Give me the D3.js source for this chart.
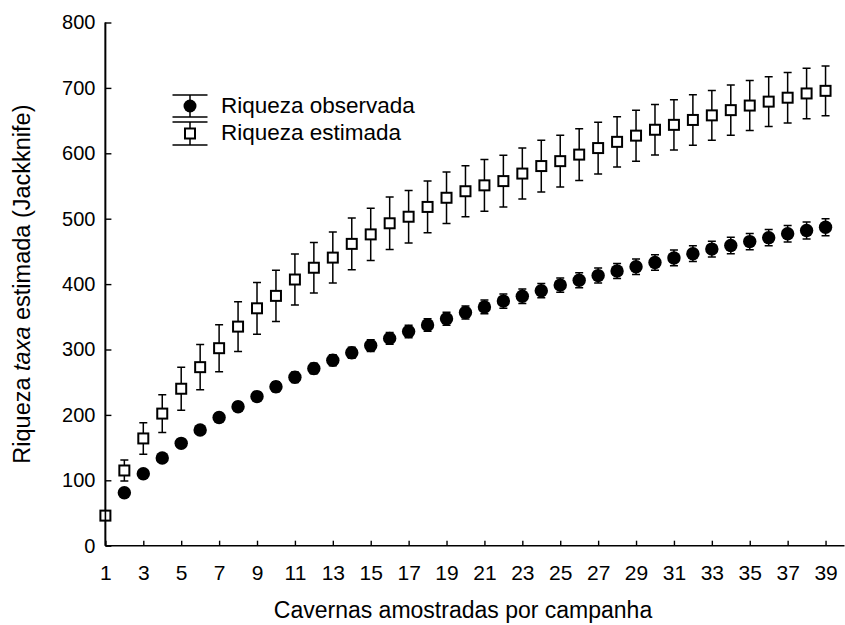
<!DOCTYPE html>
<html><head><meta charset="utf-8">
<script src="https://cdn.jsdelivr.net/npm/d3@7"></script>
<style>body{margin:0;background:#fff}svg{display:block;font-family:Arial,"Liberation Sans",sans-serif}</style>
</head><body><svg id="c" width="845" height="625"></svg>
<script>
const samples = d3.range(1, 40);
const observed = [null,81,110,134,156.5,177,196,212.5,228,243,257.5,271,283.5,295,306,317,327.5,337.5,347,356.5,365,374,381.5,390,398.5,406,413,420,426.5,433,440,446.5,453.5,459,465,471,477,482,487];
const observedErr = [0,3,4,5,5.5,6,6.5,7,7,7.5,8,8,8.5,8.5,9,9,9.5,9.5,10,10,10.5,11,11,11,11,11.5,11.5,11.5,12,12,12,12,12,12.5,12.5,12.5,12.5,13,13];
const estimated = [46,115,164,202,240,273,302,335,363,382,407,425,440.5,461.5,476,493,503,518,532,542,551,557.5,569,580.5,588,598,608,617.5,627,636,643.5,651,658,666,673,679,685,691.5,695.5];
const estimatedErr = [0,16,24,29,33,34.5,36,38,39.5,39,39,38.5,39,39.5,40,40,40,39.5,39.5,39,39.5,39.5,39,39.5,39.5,39.5,39.5,38.5,39,38.5,38.5,38.5,38,38.5,38.3,38,38.5,38.5,38];
const xTicks = d3.range(1, 40, 2);
const yTicks = d3.range(0, 801, 100);
const legendLabels = ["Riqueza observada", "Riqueza estimada"];

const svg = d3.select("#c");
const x = d3.scaleLinear().domain([1, 40]).range([105.4, 844.5]);
const y = d3.scaleLinear().domain([0, 800]).range([545.7, 22.5]);

// axes
const xAxis = d3.axisBottom(x).tickValues(xTicks).tickSize(-5).tickPadding(19).tickFormat(d3.format("d"));
const gx = svg.append("g").attr("transform", `translate(0,${y(0)})`).call(xAxis);
const yAxis = d3.axisLeft(y).tickValues(yTicks).tickSize(-6).tickPadding(10);
const gy = svg.append("g").attr("transform", `translate(${x(1)},0)`).call(yAxis);
[gx, gy].forEach(g => {
  g.select(".domain").attr("stroke", "#000").attr("stroke-width", 1.6);
  g.selectAll(".tick line").attr("stroke", "#000").attr("stroke-width", 1.4);
  g.selectAll(".tick text").attr("fill", "#000").attr("font-family", "Arial, 'Liberation Sans', sans-serif");
});
gx.selectAll(".tick text").attr("font-size", 21);
gy.selectAll(".tick text").attr("font-size", 20);
gy.select(".domain").attr("d", `M0,${y(0)}V${y(800)}`);
gx.select(".domain").attr("d", `M${x(1)},0H${x(40)}`);

// titles
svg.append("text").attr("x", 463).attr("y", 618).attr("text-anchor", "middle")
  .attr("font-size", 23).text("Cavernas amostradas por campanha");
const yt = svg.append("text").attr("transform", `translate(30,${(y(0)+y(800))/2}) rotate(-90)`)
  .attr("text-anchor", "middle").attr("font-size", 23.5);
yt.append("tspan").text("Riqueza ");
yt.append("tspan").attr("font-style", "italic").text("taxa");
yt.append("tspan").text(" estimada (Jackknife)");

const sq = samples.map((s, i) => ({s, v: estimated[i], e: estimatedErr[i]}));
const ob = samples.map((s, i) => ({s, v: observed[i], e: observedErr[i]})).filter(d => d.v != null);

function errBars(data, cap) {
  const g = svg.append("g").attr("stroke", "#000").attr("stroke-width", 1.5).attr("fill", "none");
  data.filter(d => d.e > 0).forEach(d => {
    const cx = x(d.s), y1 = y(d.v + d.e), y2 = y(d.v - d.e);
    g.append("path").attr("d", `M${cx},${y1}V${y2}M${cx-cap},${y1}H${cx+cap}M${cx-cap},${y2}H${cx+cap}`);
  });
}
errBars(sq, 4);
errBars(ob, 4);

svg.append("g").selectAll("rect").data(sq).join("rect")
  .attr("x", d => x(d.s) - 5).attr("y", d => y(d.v) - 5)
  .attr("width", 10).attr("height", 10)
  .attr("fill", "#fff").attr("stroke", "#000").attr("stroke-width", 2);
svg.append("g").selectAll("circle").data(ob).join("circle")
  .attr("cx", d => x(d.s)).attr("cy", d => y(d.v)).attr("r", 6.7).attr("fill", "#000");

// redraw y axis line over first square
svg.append("path").attr("d", `M${x(1)},${y(0)}V${y(800)}`).attr("stroke", "#000").attr("stroke-width", 1.6);

// legend
const lg = svg.append("g").attr("stroke", "#000").attr("stroke-width", 1.5).attr("fill", "none");
const lx = 190, lw = 17.5;
lg.append("path").attr("d", `M${lx},95V117M${lx-lw},95H${lx+lw}M${lx-lw},117H${lx+lw}`);
lg.append("path").attr("d", `M${lx},122V145M${lx-lw},122H${lx+lw}M${lx-lw},145H${lx+lw}`);
svg.append("circle").attr("cx", lx).attr("cy", 106).attr("r", 6.5).attr("fill", "#000");
svg.append("rect").attr("x", lx - 5).attr("y", 128.5).attr("width", 10).attr("height", 10)
  .attr("fill", "#fff").attr("stroke", "#000").attr("stroke-width", 2);
svg.append("g").selectAll("text").data(legendLabels).join("text")
  .attr("x", 221).attr("y", (d, i) => 113 + i * 27).attr("font-size", 22.5).attr("fill", "#000").text(d => d);
</script></body></html>
